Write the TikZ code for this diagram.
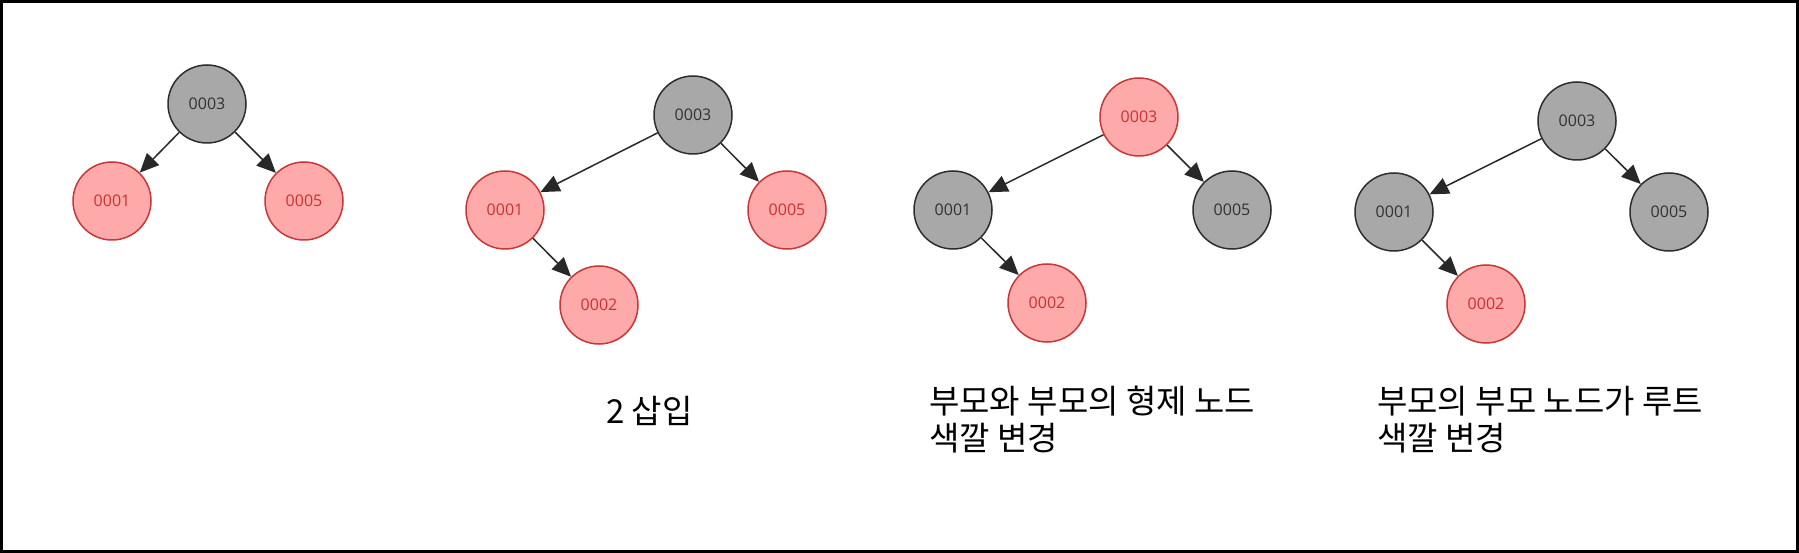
\documentclass[tikz,border=0pt]{standalone}
\usepackage{fontspec}
\setmainfont{Open Sans}
\newfontfamily\kr{Noto Sans CJK KR}
\usetikzlibrary{arrows.meta}
\definecolor{redfill}{RGB}{255,170,170}
\definecolor{redline}{RGB}{200,55,55}
\definecolor{redtext}{RGB}{200,50,50}
\definecolor{grayfill}{RGB}{168,168,168}
\definecolor{grayline}{RGB}{45,45,45}
\definecolor{graytext}{RGB}{50,50,50}
\definecolor{arrowc}{RGB}{40,40,40}
\begin{document}
\begin{tikzpicture}[x=1pt,y=-1pt,
  nd/.style={circle, line width=1.5pt, minimum size=78pt, inner sep=0pt, font=\fontsize{16}{16}\selectfont},
  rb/.style={nd, draw=redline, fill=redfill, text=redtext},
  bk/.style={nd, draw=grayline, fill=grayfill, text=graytext},
  edge/.style={draw=arrowc, line width=1.5pt, -{Triangle[length=19pt,width=17pt]}},
  lbl/.style={anchor=west, align=left, inner sep=0pt, font=\kr\fontsize{33}{37}\selectfont}]
\useasboundingbox (0,0) rectangle (1799,553);
\draw[line width=3pt] (1.5,1.5) rectangle (1797.5,551);

% tree 1
\node[bk] (a3) at (207,104) {0003};
\node[rb] (a1) at (112,201) {0001};
\node[rb] (a5) at (304,201) {0005};
\draw[edge] (a3) -- (a1);
\draw[edge] (a3) -- (a5);

% tree 2
\node[bk] (b3) at (693,115) {0003};
\node[rb] (b1) at (505,210) {0001};
\node[rb] (b5) at (787,210) {0005};
\node[rb] (b2) at (599,305) {0002};
\draw[edge] (b3) -- (b1);
\draw[edge] (b3) -- (b5);
\draw[edge] (b1) -- (b2);

% tree 3
\node[rb] (c3) at (1139,117) {0003};
\node[bk] (c1) at (953,210) {0001};
\node[bk] (c5) at (1232,210) {0005};
\node[rb] (c2) at (1047,303) {0002};
\draw[edge] (c3) -- (c1);
\draw[edge] (c3) -- (c5);
\draw[edge] (c1) -- (c2);

% tree 4
\node[bk] (d3) at (1577,121) {0003};
\node[bk] (d1) at (1394,212) {0001};
\node[bk] (d5) at (1669,212) {0005};
\node[rb] (d2) at (1486,304) {0002};
\draw[edge] (d3) -- (d1);
\draw[edge] (d3) -- (d5);
\draw[edge] (d1) -- (d2);

% labels
\node[lbl] (t1) at (606,411) {2 삽입};
\node[lbl] (t2) at (929,420) {부모와 부모의 형제 노드\\색깔 변경};
\node[lbl] (t3) at (1377,420) {부모의 부모 노드가 루트\\색깔 변경};
\end{tikzpicture}
\end{document}
